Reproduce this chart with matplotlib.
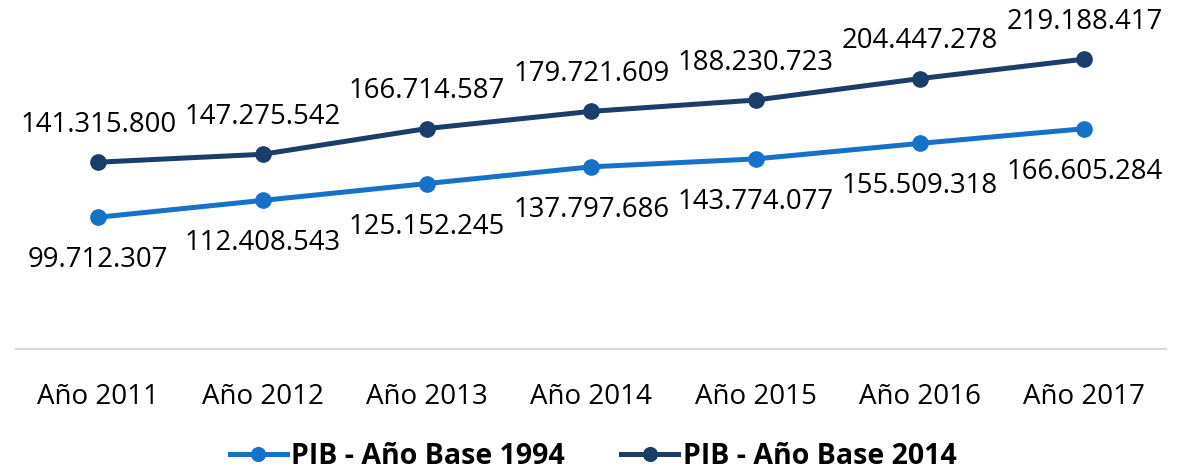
import matplotlib.pyplot as plt

years = ["Año 2011", "Año 2012", "Año 2013", "Año 2014", "Año 2015", "Año 2016", "Año 2017"]
pib_1994 = [99712307, 112408543, 125152245, 137797686, 143774077, 155509318, 166605284]
pib_2014 = [141315800, 147275542, 166714587, 179721609, 188230723, 204447278, 219188417]
labels = ["PIB - Año Base 1994", "PIB - Año Base 2014"]

plt.rcParams['font.family'] = ['Open Sans', 'DejaVu Sans']

fig = plt.figure(figsize=(11.86, 4.70), dpi=100)
ax = fig.add_axes([0.0135, 0.257, 0.97, 0.704])

x = list(range(len(years)))
light = '#1672C8'
dark = '#1B3D6A'

ax.plot(x, pib_1994, color=light, lw=3.6, marker='o', ms=11, label=labels[0])
ax.plot(x, pib_2014, color=dark, lw=3.6, marker='o', ms=11, label=labels[1])

def fmt(v):
    return f"{v:,}".replace(",", ".")

for i, v in enumerate(pib_1994):
    ax.annotate(fmt(v), (i, v), xytext=(0, -31), textcoords='offset points',
                ha='center', va='center', fontsize=19.8, color='black')
for i, v in enumerate(pib_2014):
    ax.annotate(fmt(v), (i, v), xytext=(0, 27), textcoords='offset points',
                ha='center', va='center', fontsize=19.8, color='black')

ax.set_xlim(-0.5, 6.5)
ax.set_ylim(0, 250000000)
ax.set_xticks(x)
ax.set_xticklabels(years, fontsize=20)
ax.tick_params(axis='x', length=0, pad=24)
ax.set_yticks([])
for s in ['top', 'left', 'right']:
    ax.spines[s].set_visible(False)
ax.spines['bottom'].set_color('#D9D9D9')
ax.spines['bottom'].set_linewidth(1.5)
ax.patch.set_alpha(0)

fig.legend(loc='center', bbox_to_anchor=(0.5, 1 - 456 / 470), ncol=2, frameon=False,
           prop={'weight': 'bold', 'size': 20.5}, handlelength=2.0, handletextpad=0.15,
           columnspacing=2.0, markerscale=0.9)

fig.savefig('out.png', dpi=100)
